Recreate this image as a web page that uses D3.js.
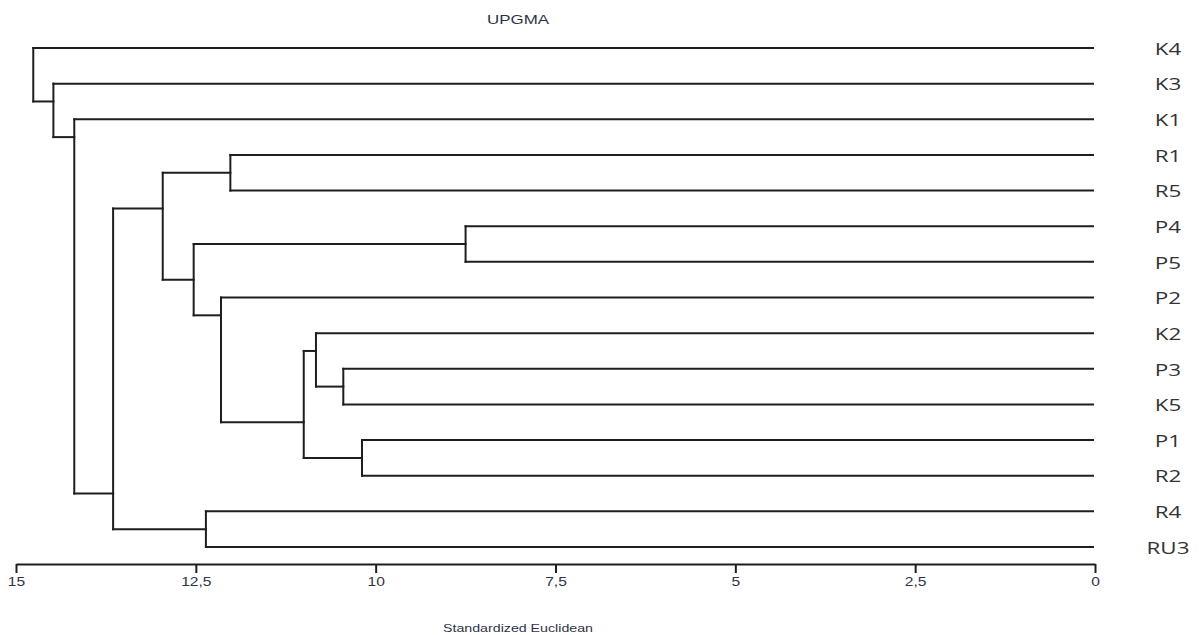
<!DOCTYPE html>
<html lang="en">
<head>
    <meta charset="UTF-8">
    <title>UPGMA dendrogram</title>
    <script src="https://d3js.org/d3.v7.min.js"></script>
    <style>
        body { margin: 0; background: #fff; }
        .branch { stroke: #1e1e1e; stroke-width: 2; fill: none; stroke-linecap: square; }
        .leaf-label { font-family: "Open Sans", sans-serif; font-size: 16px; fill: #333; }
        .small { font-family: Arial, "Liberation Sans", sans-serif; fill: #2f3348; }
        .axis path, .axis line { stroke: #1e1e1e; stroke-width: 2; }
    </style>
</head>
<body>
    <svg id="chart" width="1199" height="635"></svg>

    <script>
        // leaf order, top to bottom
        const leaves = ["K4", "K3", "K1", "R1", "R5", "P4", "P5", "P2", "K2", "P3", "K5", "P1", "R2", "R4", "RU3"];

        // merges: [node id, left child, right child, distance]
        const merges = [
            ["a", "P4", "P5", 8.75],
            ["b", "P1", "R2", 10.19],
            ["c", "P3", "K5", 10.45],
            ["d", "K2", "c", 10.83],
            ["e", "d", "b", 11.0],
            ["f", "P2", "e", 12.15],
            ["g", "a", "f", 12.53],
            ["h", "R1", "R5", 12.02],
            ["i", "h", "g", 12.96],
            ["j", "R4", "RU3", 12.36],
            ["k", "i", "j", 13.65],
            ["l", "K1", "k", 14.19],
            ["m", "K3", "l", 14.48],
            ["n", "K4", "m", 14.76]
        ];

        const tickValues = [15, 12.5, 10, 7.5, 5, 2.5, 0];
        const tickLabels = ["15", "12,5", "10", "7,5", "5", "2,5", "0"];

        const svg = d3.select('#chart');

        const x = d3.scaleLinear().domain([15, 0]).range([16, 1095]);
        const y = d3.scalePoint().domain(leaves).range([48, 547]);

        // node positions
        const nodes = {};
        leaves.forEach(name => {
            nodes[name] = { h: 0, y: y(name), first: name, last: name };
        });
        merges.forEach(([id, l, r, h]) => {
            const L = nodes[l], R = nodes[r];
            nodes[id] = {
                h: h,
                // joint drawn between the two leaves at the split (PAST style)
                y: (y(L.last) + y(R.first)) / 2,
                first: L.first,
                last: R.last,
                left: L,
                right: R
            };
        });

        const g = svg.append('g');

        merges.forEach(([id]) => {
            const n = nodes[id];
            // vertical joint
            g.append('line')
                .attr('class', 'branch')
                .attr('x1', x(n.h)).attr('x2', x(n.h))
                .attr('y1', n.left.y).attr('y2', n.right.y);
            // horizontal arms to the children
            [n.left, n.right].forEach(c => {
                g.append('line')
                    .attr('class', 'branch')
                    .attr('x1', x(n.h)).attr('x2', c.h === 0 ? x(0) - 2 : x(c.h))
                    .attr('y1', c.y).attr('y2', c.y);
            });
        });

        // leaf labels
        svg.append('g').selectAll('text')
            .data(leaves)
            .join('text')
            .attr('class', 'leaf-label')
            .attr('transform', d => `translate(1168,${y(d) + 1}) scale(1.4,1)`)
            .attr('text-anchor', 'middle')
            .attr('dy', '0.36em')
            .text(d => d);

        // axis
        const axis = d3.axisBottom(x)
            .tickValues(tickValues)
            .tickFormat((d, i) => tickLabels[i])
            .tickSize(9)
            .tickSizeOuter(0)
            .tickPadding(4);

        const ax = svg.append('g')
            .attr('class', 'axis')
            .attr('transform', 'translate(0,564)')
            .call(axis);
        ax.selectAll('text')
            .attr('class', 'small')
            .attr('font-size', 12)
            .attr('transform', 'scale(1.3,1)');

        // title
        svg.append('text')
            .attr('class', 'small')
            .attr('x', 518).attr('y', 24)
            .attr('text-anchor', 'middle')
            .attr('font-size', 12)
            .attr('textLength', 62)
            .attr('lengthAdjust', 'spacingAndGlyphs')
            .text('UPGMA');

        // axis title
        svg.append('text')
            .attr('class', 'small')
            .attr('x', 518).attr('y', 632)
            .attr('text-anchor', 'middle')
            .attr('font-size', 11)
            .attr('textLength', 150)
            .attr('lengthAdjust', 'spacingAndGlyphs')
            .text('Standardized Euclidean');
    </script>
</body>
</html>
